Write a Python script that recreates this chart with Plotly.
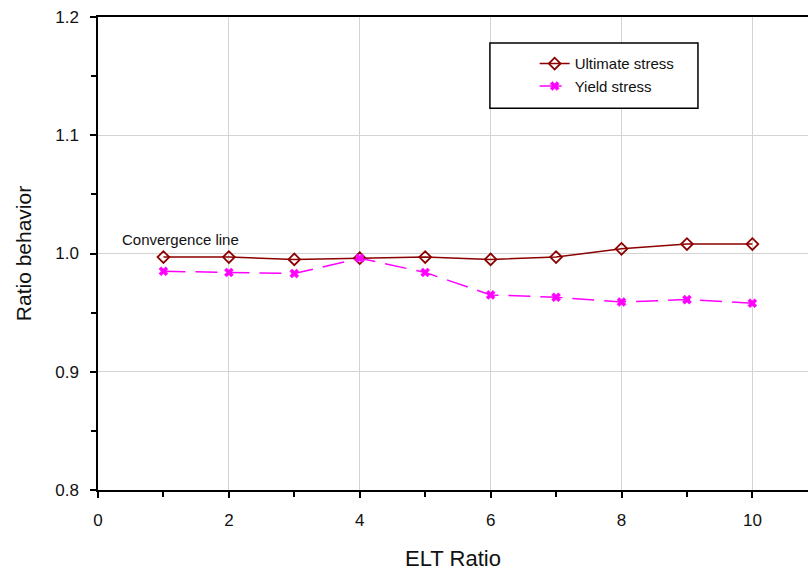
import plotly.graph_objects as go

# ELT ratio values and the normalised stress ratios at each
elt_ratio = [1, 2, 3, 4, 5, 6, 7, 8, 9, 10]
ultimate_stress = [0.997, 0.997, 0.995, 0.996, 0.997, 0.995, 0.997, 1.004, 1.008, 1.008]
yield_stress = [0.985, 0.984, 0.983, 0.996, 0.984, 0.965, 0.963, 0.959, 0.961, 0.958]

x_tick_step = 2
x_minor_step = 1
y_tick_step = 0.1
y_minor_step = 0.05

FONT = "Liberation Sans, Arial, sans-serif"

fig = go.Figure()

fig.add_trace(go.Scatter(
    x=elt_ratio, y=ultimate_stress, name="Ultimate stress",
    mode="lines+markers",
    line=dict(color="#8B0000", width=1.5),
    marker=dict(symbol="diamond-open", size=9, color="#8B0000",
                line=dict(width=1.8, color="#8B0000")),
))

fig.add_trace(go.Scatter(
    x=elt_ratio, y=yield_stress, name="Yield stress",
    mode="lines+markers",
    line=dict(color="#FF00FF", width=1.5, dash="22px,10px"),
    marker=dict(symbol="x", size=8, color="#FF00FF",
                line=dict(width=0.5, color="#FF00FF")),
))

fig.add_annotation(
    x=1.26, y=1.0122, xref="x", yref="y", text="Convergence line",
    showarrow=False, font=dict(family=FONT, size=15, color="#111111"),
)

# framed box around the legend entries
fig.add_shape(
    type="rect", xref="paper", yref="paper",
    x0=0.552, x1=0.845, y0=0.807, y1=0.945,
    line=dict(color="#000000", width=1.5), fillcolor="white", layer="above",
)

fig.update_layout(
    width=808, height=574,
    margin=dict(l=98, r=0, t=17, b=84),
    paper_bgcolor="white", plot_bgcolor="white",
    font=dict(family=FONT, color="#111111"),
    showlegend=True,
    legend=dict(
        x=0.615, y=0.936, xanchor="left", yanchor="top",
        bgcolor="rgba(0,0,0,0)", borderwidth=0,
        font=dict(family=FONT, size=15, color="#111111"),
        tracegroupgap=0,
    ),
    xaxis=dict(
        range=[0, 10.85], tickmode="linear", tick0=0, dtick=x_tick_step,
        showgrid=True, gridcolor="#d3d3d3", gridwidth=1,
        showline=True, linecolor="#000000", linewidth=1.5, mirror=True,
        ticks="outside", ticklen=6, tickwidth=1.5, tickcolor="#000000",
        tickfont=dict(family=FONT, size=17, color="#111111"),
        ticklabelstandoff=8,
        minor=dict(tick0=0, dtick=x_minor_step, ticks="outside", ticklen=5,
                   tickwidth=1.5, tickcolor="#000000", showgrid=False),
        zeroline=False,
        title=dict(text="ELT Ratio", font=dict(family=FONT, size=22, color="#111111"),
                   standoff=21),
    ),
    yaxis=dict(
        range=[0.8, 1.2], tickmode="linear", tick0=0.8, dtick=y_tick_step,
        tickformat=".1f",
        showgrid=True, gridcolor="#d3d3d3", gridwidth=1,
        showline=True, linecolor="#000000", linewidth=1.5, mirror=False,
        ticks="outside", ticklen=6, tickwidth=1.5, tickcolor="#000000",
        tickfont=dict(family=FONT, size=17, color="#111111"),
        ticklabelstandoff=8,
        minor=dict(tick0=0.8, dtick=y_minor_step, ticks="outside", ticklen=5,
                   tickwidth=1.5, tickcolor="#000000", showgrid=False),
        zeroline=False,
        title=dict(text="Ratio behavior", font=dict(family=FONT, size=21, color="#111111"),
                   standoff=18),
    ),
)

fig.write_html("out.html")
